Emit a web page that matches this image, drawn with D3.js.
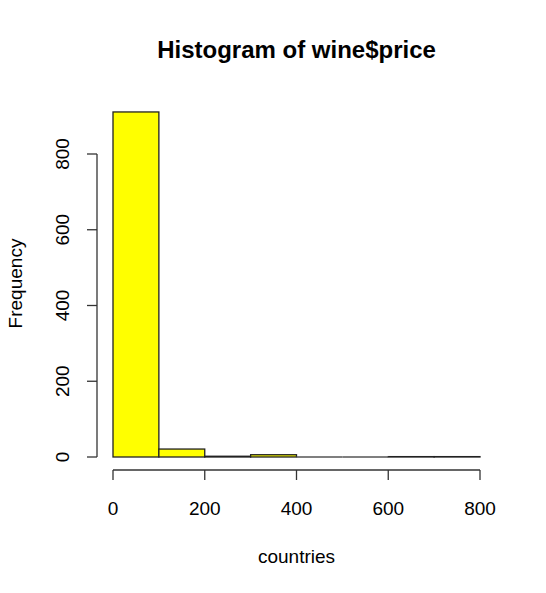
<!DOCTYPE html>
<html><head><meta charset="utf-8">
<script src="https://cdn.jsdelivr.net/npm/d3@7"></script>
<style>body{margin:0;background:#fff}</style>
</head><body>
<script>
const binStarts = [0,100,200,300,400,500,600,700];
const binWidth = 100;
const counts = [911,21,2,6,0,0,1,1];
const xTicks = [0,200,400,600,800];
const yTicks = [0,200,400,600,800];
const title = "Histogram of wine$price";
const xLabel = "countries";
const yLabel = "Frequency";

const W=546,H=593;
const svg=d3.select("body").append("svg").attr("width",W).attr("height",H);
const x=d3.scaleLinear().domain([0,800]).range([113,480]);
const y=d3.scaleLinear().domain([0,800]).range([457,154]);
const font="Liberation Sans, Arial, sans-serif";

svg.selectAll("rect.bar").data(binStarts).enter().append("rect")
  .attr("x",d=>x(d)).attr("width",d=>x(d+binWidth)-x(d))
  .attr("y",(d,i)=>y(counts[i])).attr("height",(d,i)=>y(0)-y(counts[i]))
  .attr("fill","#FFFF00").attr("stroke","#222").attr("stroke-width",1.3);
// zero-height bins drawn as baseline segments
svg.selectAll("line.zero").data(binStarts.filter((d,i)=>counts[i]===0)).enter().append("line")
  .attr("x1",d=>x(d)).attr("x2",d=>x(d+binWidth)).attr("y1",y(0)).attr("y2",y(0))
  .attr("stroke","#555").attr("stroke-width",1.3);

// x axis
const xa=svg.append("g").attr("transform","translate(0,470)");
xa.append("line").attr("x1",x(0)).attr("x2",x(800)).attr("stroke","#333").attr("stroke-width",1.3);
xTicks.forEach(t=>{
  xa.append("line").attr("x1",x(t)).attr("x2",x(t)).attr("y1",0).attr("y2",10).attr("stroke","#333").attr("stroke-width",1.3);
  xa.append("text").attr("x",x(t)).attr("y",45).attr("text-anchor","middle")
    .attr("font-family",font).attr("font-size",19).attr("fill","#000").text(t);
});
// y axis
const ya=svg.append("g").attr("transform","translate(97,0)");
ya.append("line").attr("y1",y(0)).attr("y2",y(800)).attr("stroke","#333").attr("stroke-width",1.3);
yTicks.forEach(t=>{
  ya.append("line").attr("y1",y(t)).attr("y2",y(t)).attr("x1",0).attr("x2",-10).attr("stroke","#333").attr("stroke-width",1.3);
  ya.append("text").attr("transform",`translate(-28,${y(t)}) rotate(-90)`).attr("text-anchor","middle")
    .attr("font-family",font).attr("font-size",19).attr("fill","#000").text(t);
});
svg.append("text").attr("x",296.5).attr("y",58).attr("text-anchor","middle")
  .attr("font-family",font).attr("font-weight","bold").attr("font-size",24).text(title);
svg.append("text").attr("x",296.5).attr("y",563).attr("text-anchor","middle")
  .attr("font-family",font).attr("font-size",19).text(xLabel);
svg.append("text").attr("transform",`translate(22,${(y(0)+y(800))/2-22}) rotate(-90)`).attr("text-anchor","middle")
  .attr("font-family",font).attr("font-size",19).text(yLabel);
</script>
</body></html>
